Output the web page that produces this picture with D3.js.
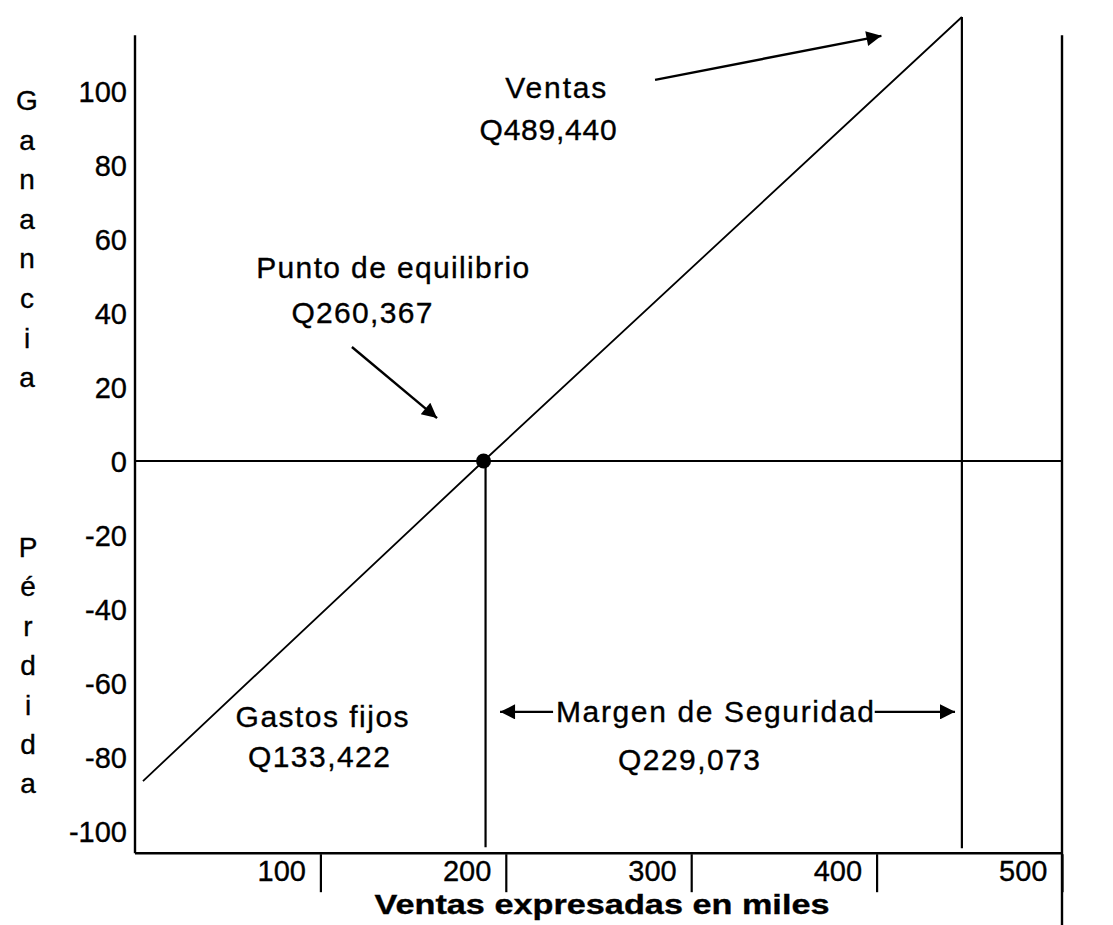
<!DOCTYPE html>
<html>
<head>
<meta charset="utf-8">
<script src="https://cdn.jsdelivr.net/npm/d3@7"></script>
<style>
  html, body { margin: 0; padding: 0; background: #fff; }
  svg { display: block; }
  text { font-family: "Liberation Sans", Arial, sans-serif; fill: #000; stroke: #000; stroke-width: 0.35px; }
</style>
</head>
<body>
<svg id="chart" width="1113" height="925"></svg>
<script>
// ---- data ----
const xTicks = [100, 200, 300, 400, 500];
const yTicks = [-100, -80, -60, -40, -20, 0, 20, 40, 60, 80, 100];
const profitX = [4.3, 188, 446];          // ventas (miles)
const profitY = [-86.5, 0, 120];          // ganancia / pérdida
const breakEven = { x: 188, y: 0 };
const ventasX = 446;
const yLabelTop = ["G", "a", "n", "a", "n", "c", "i", "a"];
const yLabelBottom = ["P", "é", "r", "d", "i", "d", "a"];
const annTexts = ["Ventas", "Q489,440", "Punto de equilibrio", "Q260,367",
                  "Gastos fijos", "Q133,422", "Margen de Seguridad", "Q229,073"];
const annX = [227, 222.8, 139, 122.4, 100.9, 99.2, 312.8, 298.8];
const annY = [98.1, 86.8, 49.5, 37.3, -71.9, -82.7, -70.5, -83.5];
const annW = [101, 137, 273, 141, 173, 142, 318, 142];
const arrowsFrom = [[280.5, 103], [117, 30.8], [225.5, -67.8], [399, -67.8]];
const arrowsTo   = [[402.6, 114.9], [162.9, 11.6], [196.9, -67.8], [442.3, -67.8]];
const xTitle = "Ventas expresadas en miles";

// ---- scales ----
const x = d3.scaleLinear().domain([0, 500]).range([135, 1062]);
const y = d3.scaleLinear().domain([-100, 100]).range([831, 91]);
const yTop = 115.1, yBottom = -106;
const FONT = '"Liberation Sans", Arial, sans-serif';

const svg = d3.select("#chart");
svg.append("rect").attr("width", 1113).attr("height", 925).attr("fill", "#fff");

const defs = svg.append("defs");
defs.append("marker").attr("id", "ah")
  .attr("viewBox", "0 0 10 10").attr("refX", 10).attr("refY", 5)
  .attr("markerWidth", 22).attr("markerHeight", 15)
  .attr("markerUnits", "userSpaceOnUse").attr("orient", "auto")
  .append("path").attr("d", "M0,0 L10,5 L0,10 Z").attr("fill", "#000");

// axes lines
svg.append("line").attr("x1", x(0)).attr("x2", x(0))
  .attr("y1", y(yTop)).attr("y2", y(yBottom)).attr("stroke", "#000").attr("stroke-width", 2.4);
svg.append("line").attr("x1", x(0)).attr("x2", x(500))
  .attr("y1", y(yBottom)).attr("y2", y(yBottom)).attr("stroke", "#000").attr("stroke-width", 2.4);
svg.append("line").attr("x1", x(0)).attr("x2", x(500))
  .attr("y1", y(0)).attr("y2", y(0)).attr("stroke", "#000").attr("stroke-width", 2.2);
// right boundary line
svg.append("line").attr("x1", x(500)).attr("x2", x(500))
  .attr("y1", y(yTop)).attr("y2", 925).attr("stroke", "#000").attr("stroke-width", 2.4);

// y axis labels
const yAxis = d3.axisLeft(y).tickValues(yTicks).tickSize(0).tickPadding(8)
  .tickFormat(d => String(d));
const gy = svg.append("g").attr("transform", `translate(${x(0)},0)`).call(yAxis);
gy.select(".domain").remove();
gy.selectAll("text").style("font-size", "29px")
  .style("font-family", FONT).attr("fill", "#000")
  .attr("dy", "0.36em");

// x axis ticks and labels
const xAxis = d3.axisBottom(x).tickValues(xTicks).tickSize(38).tickPadding(0)
  .tickFormat(d => String(d));
const gx = svg.append("g").attr("transform", `translate(0,${y(yBottom) + 1})`).call(xAxis);
gx.select(".domain").remove();
gx.selectAll("line").attr("stroke", "#000").attr("stroke-width", 2.2);
gx.selectAll("text").style("font-size", "29px")
  .style("font-family", FONT).attr("fill", "#000")
  .attr("text-anchor", "end").attr("x", -15).attr("y", 27).attr("dy", 0);

// x title
svg.append("text").attr("x", 602).attr("y", 914).attr("text-anchor", "middle")
  .style("font-size", "28px").style("font-weight", "bold")
  .attr("textLength", 455).attr("lengthAdjust", "spacingAndGlyphs").text(xTitle);

// vertical y title letters
svg.append("g").selectAll("text").data(yLabelTop).join("text")
  .attr("x", 27).attr("y", (d, i) => 110 + i * 39.6).attr("text-anchor", "middle")
  .style("font-size", "28px").text(d => d);
svg.append("g").selectAll("text").data(yLabelBottom).join("text")
  .attr("x", 28).attr("y", (d, i) => 557 + i * 39.4).attr("text-anchor", "middle")
  .style("font-size", "28px").text(d => d);

// ventas vertical line & breakeven vertical line
svg.append("line").attr("x1", x(ventasX)).attr("x2", x(ventasX))
  .attr("y1", y(d3.max(profitY))).attr("y2", y(yBottom) - 5)
  .attr("stroke", "#000").attr("stroke-width", 2.2);
svg.append("line").attr("x1", x(breakEven.x) + 2).attr("x2", x(breakEven.x) + 2)
  .attr("y1", y(breakEven.y)).attr("y2", y(yBottom) - 6)
  .attr("stroke", "#000").attr("stroke-width", 2.2);

// profit line
const pts = profitX.map((v, i) => [v, profitY[i]]);
svg.append("path").datum(pts)
  .attr("d", d3.line().x(d => x(d[0])).y(d => y(d[1])))
  .attr("fill", "none").attr("stroke", "#000").attr("stroke-width", 1.8);

// breakeven dot
svg.append("circle").attr("cx", x(breakEven.x)).attr("cy", y(breakEven.y))
  .attr("r", 7.5).attr("fill", "#000");

// arrows
svg.append("g").selectAll("line").data(arrowsFrom).join("line")
  .attr("x1", d => x(d[0])).attr("y1", d => y(d[1]))
  .attr("x2", (d, i) => x(arrowsTo[i][0])).attr("y2", (d, i) => y(arrowsTo[i][1]))
  .attr("stroke", "#000").attr("stroke-width", 2.4).attr("marker-end", "url(#ah)");

// annotation texts
svg.append("g").selectAll("text").data(annTexts).join("text")
  .attr("x", (d, i) => x(annX[i])).attr("y", (d, i) => y(annY[i]))
  .attr("text-anchor", "middle").style("font-size", "30px")
  .attr("textLength", (d, i) => annW[i]).attr("lengthAdjust", "spacing")
  .text(d => d);
</script>
</body>
</html>
